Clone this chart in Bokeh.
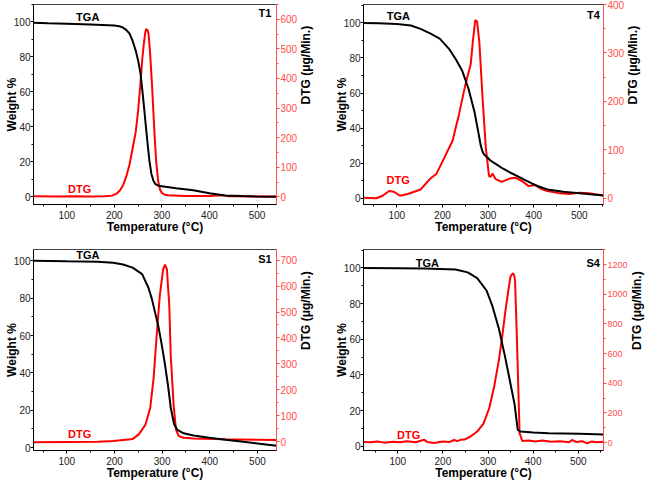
import math
from bokeh.plotting import figure
from bokeh.models import Range1d, LinearAxis, FixedTicker
from bokeh.layouts import gridplot
from bokeh.core.properties import value
from bokeh.embed import file_html
from bokeh.resources import INLINE

# ---------------- data ----------------
t1_tga_T = [30, 60, 100, 150, 200, 210, 218, 225, 232, 238, 245, 250, 255, 260, 265, 270, 274, 278, 282, 286, 292, 300, 330, 366, 400, 433, 470, 500, 541]
t1_tga_W = [99.6, 99.3, 99.0, 98.6, 98.0, 97.6, 96.8, 95.5, 93.3, 89.5, 83.6, 78, 70.6, 58, 44, 30, 20, 13, 9.2, 7.3, 6.3, 5.9, 4.8, 3.7, 1.9, 0.6, 0.3, 0.1, 0.0]
t1_dtg_T = [30, 80, 120, 150, 180, 195, 205, 212, 218, 225, 232, 238, 245, 250, 255, 259, 262, 265, 267, 270, 272, 275, 279, 282, 285, 288, 292, 296, 300, 306, 312, 350, 400, 427, 440, 500, 541]
t1_dtg_V = [2, 1, 2, 1, 2, 4, 11, 22, 38, 68, 110, 160, 220, 290, 385, 470, 517, 555, 567, 562, 550, 490, 385, 290, 198, 120, 55, 25, 13, 7, 5, 3, 3, 5, 2, 1, 1]

t4_tga_T = [27, 60, 100, 131, 152, 173, 194, 215, 229, 243, 257, 270, 277, 284, 288, 291, 298, 305, 320, 333, 347, 361, 380, 396, 413, 430, 465, 500, 553]
t4_tga_W = [100, 99.8, 99.4, 98.5, 96.6, 94, 91, 85, 79.4, 72.9, 62.6, 49.5, 40, 30, 26.5, 25, 23.4, 21.5, 19, 16.8, 14.8, 13, 10.5, 8.4, 6.5, 5, 3.7, 2.8, 1.6]
t4_dtg_T = [27, 55, 69, 83, 93, 107, 124, 152, 173, 187, 201, 222, 236, 250, 262, 267, 272, 276, 281, 288, 295, 302, 305, 310, 316, 330, 347, 361, 375, 389, 403, 417, 430, 458, 479, 500, 521, 553]
t4_dtg_V = [1, 0, 5, 15, 13.5, 5, 8.8, 18, 40, 50.7, 77.7, 118, 172, 233, 277, 327, 368, 365, 321, 206, 105, 46, 44, 50.7, 40, 33.8, 40.5, 42, 35, 25, 27, 19, 15, 10, 8.8, 11.5, 10, 5.4]

s1_tga_T = [29, 100, 164, 197, 218, 238, 258, 271, 278, 285, 292, 298, 305, 312, 318, 325, 332, 345, 366, 399, 433, 466, 500, 540]
s1_tga_W = [100, 99.7, 99.5, 98.9, 98, 96.3, 92.8, 85.7, 80, 72.5, 65, 56.7, 46, 33.8, 21.5, 12.7, 9.5, 7.7, 6.5, 5.3, 4.2, 3.3, 2.3, 1.1]
s1_dtg_T = [29, 100, 164, 197, 224, 238, 251, 265, 275, 282, 288, 295, 302, 306, 310, 315, 318, 324, 329, 335, 345, 366, 433, 500, 540]
s1_dtg_V = [-2, -1, 0, 2.5, 7.6, 10, 28, 66, 130, 244, 397, 562, 664, 683, 664, 524, 333, 143, 47, 21.6, 15, 12.7, 9, 7.6, 6.4]

s4_tga_T = [24, 100, 159, 228, 255, 276, 297, 310, 324, 338, 352, 359, 363, 366, 372, 400, 434, 503, 556]
s4_tga_W = [100, 99.8, 99.6, 99.1, 97.5, 94.3, 87.2, 78.4, 66, 50, 32.3, 23.4, 15, 9.2, 8.3, 7.8, 7.4, 7.1, 6.7]
s4_dtg_T = [24, 40, 55, 70, 90, 105, 120, 140, 158, 165, 180, 200, 215, 225, 232, 240, 248, 262, 276, 290, 303, 314, 324, 331, 338, 345, 350, 355, 358, 360, 364, 368, 370, 376, 390, 405, 420, 440, 460, 480, 486, 495, 510, 520, 530, 540, 556]
s4_dtg_V = [5, 3, 8, 0, 6, 2, 9, 3, 20, 5, -2, 8, 5, 18, 10, 20, 21, 43, 75, 128, 235, 384, 555, 705, 875, 1025, 1121, 1142, 1130, 1089, 705, 278, 64, 11, 15, 8, 14, 6, 10, 3, 18, 5, 9, -5, 8, 2, 6]

x_ticks = [100, 200, 300, 400, 500]
w_ticks = [0, 20, 40, 60, 80, 100]
t1_dtg_ticks = [0, 100, 200, 300, 400, 500, 600]
t4_dtg_ticks = [0, 100, 200, 300, 400]
s1_dtg_ticks = [0, 100, 200, 300, 400, 500, 600, 700]
s4_dtg_ticks = [0, 200, 400, 600, 800, 1000, 1200]

x_title = "Temperature (\u00b0C)"
y_title = "Weight %"
r_title = "DTG (\u03bcg/Min.)"

FONT = "Liberation Sans"
RED = "#ff0000"
AXRED = "#ff4d4d"


def minor_of(ticks, lo, hi):
    step = ticks[1] - ticks[0]
    out = []
    v = ticks[0] - step
    while v <= hi + step:
        m = v + step / 2.0
        if lo <= m <= hi:
            out.append(m)
        v += step
    return out


def style_axis(ax, color, label_color, label_standoff, title_standoff, label_size="10px"):
    ax.axis_line_color = color
    ax.axis_line_width = 1
    ax.major_tick_line_color = color
    ax.minor_tick_line_color = color
    ax.major_tick_in = 0
    ax.major_tick_out = 3
    ax.minor_tick_in = 0
    ax.minor_tick_out = 2
    ax.major_label_text_color = label_color
    ax.major_label_text_font = FONT
    ax.major_label_text_font_size = label_size
    ax.major_label_standoff = label_standoff
    ax.axis_label_text_font = FONT
    ax.axis_label_text_font_style = "bold"
    ax.axis_label_text_font_size = "12px"
    ax.axis_label_text_color = "black"
    ax.axis_label_standoff = title_standoff


def panel(width, height, borders, xr, yr, rr, rticks, rsize,
          tga_T, tga_W, dtg_T, dtg_V, labels):
    bl, br, bt, bb = borders
    p = figure(width=width, height=height, output_backend="svg", toolbar_location=None,
               x_range=Range1d(*xr), y_range=Range1d(*yr),
               min_border_left=bl, min_border_right=br, min_border_top=bt, min_border_bottom=bb)
    p.extra_y_ranges = {"dtg": Range1d(*rr)}
    p.grid.visible = False
    p.outline_line_color = "#444444"
    p.background_fill_color = "white"
    p.border_fill_color = "white"

    p.xaxis.ticker = FixedTicker(ticks=x_ticks, minor_ticks=minor_of(x_ticks, *xr))
    p.yaxis.ticker = FixedTicker(ticks=w_ticks, minor_ticks=minor_of(w_ticks, *yr))
    p.xaxis.axis_label = x_title
    p.yaxis.axis_label = y_title
    style_axis(p.xaxis[0], "black", "#222222", 3, -2)
    style_axis(p.yaxis[0], "black", "#222222", 0, -8)

    rax = LinearAxis(y_range_name="dtg", axis_label=r_title,
                     ticker=FixedTicker(ticks=rticks, minor_ticks=minor_of(rticks, *rr)))
    style_axis(rax, AXRED, AXRED, 1, 6, rsize)
    rax.axis_label_orientation = math.pi / 2
    rax.axis_label_text_baseline = "top"
    p.add_layout(rax, "right")

    p.line(dtg_T, dtg_V, y_range_name="dtg", line_color=RED, line_width=2)
    p.line(tga_T, tga_W, line_color="black", line_width=2)

    (tx, ty), (dx, dy), (nx, ny, name) = labels
    p.text(x=[tx], y=[ty], text=["TGA"], text_font=value(FONT), text_font_style="bold",
           text_font_size="11px", text_color="black", text_align="center", text_baseline="middle")
    p.text(x=[dx], y=[dy], text=["DTG"], text_font=value(FONT), text_font_style="bold",
           text_font_size="11px", text_color=RED, text_align="center", text_baseline="middle")
    p.text(x=[nx], y=[ny], text=[name], text_font=value(FONT), text_font_style="bold",
           text_font_size="11px", text_color="black", text_align="right", text_baseline="middle")
    return p


p1 = panel(323, 241, (33, 43, 4, 37), (30, 541), (-4.5, 110), (-26, 650), t1_dtg_ticks, "10px",
           t1_tga_T, t1_tga_W, t1_dtg_T, t1_dtg_V,
           ((144, 103), (127, 4.6), (530, 105, "T1")))
p2 = panel(330, 241, (40, 38, 4, 37), (27, 553), (-3.6, 110.5), (-13, 400), t4_dtg_ticks, "10px",
           t4_tga_T, t4_tga_W, t4_dtg_T, t4_dtg_V,
           ((103.5, 104), (103, 10.3), (545, 104.7, "T4")))
p3 = panel(323, 241, (33, 43, 8, 29), (30, 540), (-1.5, 106), (-34, 741), s1_dtg_ticks, "10px",
           s1_tga_T, s1_tga_W, s1_dtg_T, s1_dtg_V,
           ((144, 103), (127, 7.4), (530, 101, "S1")))
p4 = panel(330, 241, (40, 38, 8, 29), (24, 556), (-2.3, 110.3), (-53, 1302), s4_dtg_ticks, "9px",
           s4_tga_T, s4_tga_W, s4_dtg_T, s4_dtg_V,
           ((165.5, 103), (124, 6.2), (548, 103, "S4")))

grid = gridplot([[p1, p2], [p3, p4]], toolbar_location=None)

open("out.html", "w").write(file_html(grid, INLINE))
